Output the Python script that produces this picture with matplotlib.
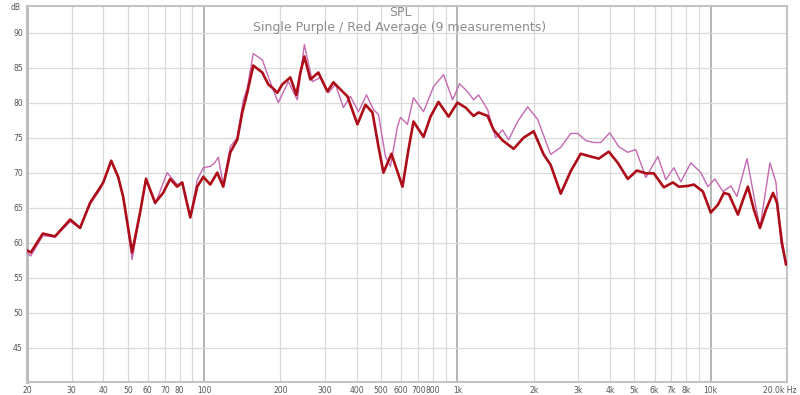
import matplotlib
matplotlib.use("Agg")
import matplotlib.pyplot as plt
from matplotlib.ticker import FixedLocator, NullFormatter

# Red: average of 9 measurements
avg_freq = [20, 20.7, 23.1, 25.8, 29.6, 32.4, 35.5, 38.9, 40, 43, 45.8, 47.9, 52, 55.9,
            59, 64.1, 68.9, 73.5, 78.3, 82, 88.2, 94, 99.3, 105.8, 112.7, 119, 126.9,
            135.2, 141.5, 148, 156.4, 169.8, 179.3, 187.7, 194.6, 203.6, 219, 231.4,
            240, 248.8, 262.8, 282.5, 306.8, 324, 351.6, 368, 403, 433.6, 462, 488,
            510.7, 549, 607, 641, 671, 735, 783, 842, 923, 1000, 1077, 1158, 1212,
            1316, 1390, 1508, 1668, 1826, 2000, 2190, 2334, 2558, 2800, 3068, 3360,
            3614, 3958, 4296, 4706, 5108, 5544, 5962, 6530, 7086, 7482, 8124, 8580,
            9312, 10000, 10670, 11272, 11800, 12808, 13400, 14020, 14810, 15640,
            16520, 17612, 18260, 19100, 19818]
avg_db = [58.9, 58.6, 61.3, 60.9, 63.3, 62.1, 65.7, 67.9, 68.6, 71.7, 69.4, 66.6, 58.6, 64.3,
          69.1, 65.7, 67.1, 69.1, 68.0, 68.6, 63.6, 68.0, 69.4, 68.3, 70.0, 68.0, 72.9,
          74.7, 78.6, 81.4, 85.3, 84.3, 82.6, 82.0, 81.4, 82.6, 83.6, 81.1,
          84.3, 86.6, 83.3, 84.3, 81.6, 82.9, 81.6, 80.9, 76.9, 79.7, 78.6, 73.7,
          70.0, 72.7, 68.0, 73.3, 77.3, 75.1, 78.0, 80.1, 78.0, 80.0, 79.3, 78.1, 78.6,
          78.1, 76.1, 74.6, 73.4, 75.0, 75.9, 72.6, 71.1, 67.0, 70.2, 72.7, 72.3,
          72.0, 73.0, 71.4, 69.1, 70.3, 69.9, 69.9, 67.9, 68.6, 68.0, 68.1, 68.3,
          67.3, 64.3, 65.4, 67.1, 66.9, 64.0, 66.1, 68.0, 64.7, 62.1,
          64.7, 67.1, 65.7, 60.0, 56.9]

# Purple: single measurement
single_freq = [20, 20.7, 23.1, 25.8, 28.3, 29.6, 32.4, 35.5, 38.9, 43, 45.8, 47.9, 52, 55.9,
               59, 64.1, 71.5, 78.3, 82, 88.2, 94, 99.3, 105.8, 109.7, 113.8, 119, 126.9,
               135.2, 142.8, 148, 156.4, 169.8, 182.6, 196.4, 215, 233.4, 248.8, 267.7,
               287.8, 309.7, 330, 354.8, 378, 406.8, 437.6, 466.4, 488, 520, 544, 580,
               596, 635, 671, 735, 805, 882, 957, 1020, 1107, 1158, 1212, 1316, 1416,
               1508, 1593, 1729, 1894, 2074, 2334, 2558, 2800, 2986, 3210, 3454, 3680,
               3994, 4336, 4706, 5060, 5544, 6184, 6650, 7152, 7620, 8350, 9140, 9748,
               10384, 11170, 12012, 12690, 13900, 14810, 15640, 17130, 18090, 18930, 19818]
single_db = [58.5, 58.1, 61.0, 60.8, 62.3, 63.0, 62.1, 65.5, 67.6, 71.6, 69.3, 66.6, 57.6, 64.3,
             69.3, 65.5, 70.0, 68.3, 68.6, 63.6, 69.0, 70.7, 70.9, 71.3, 72.2, 68.3, 73.7,
             75.0, 80.4, 82.0, 87.0, 86.1, 82.9, 80.0, 83.0, 80.4, 88.3, 83.0,
             83.6, 81.4, 82.6, 79.3, 80.9, 78.7, 81.1, 79.0, 78.3, 72.3, 70.9, 76.6,
             77.9, 76.9, 80.7, 78.7, 82.3, 84.0, 80.4, 82.7, 81.4, 80.4, 81.1, 79.0, 75.0,
             76.1, 74.7, 77.3, 79.4, 77.6, 72.6, 73.6, 75.6, 75.6, 74.6, 74.3, 74.3,
             75.7, 73.7, 72.9, 73.3, 69.3, 72.3, 69.0, 70.7, 68.7, 71.4, 70.0, 68.0,
             69.1, 67.3, 68.1, 66.6, 72.0, 66.6, 62.1, 71.4, 68.6, 60.0, 57.1]

x_ticks = [20, 30, 40, 50, 60, 70, 80, 100, 200, 300, 400, 500, 600, 700, 800,
           1000, 2000, 3000, 4000, 5000, 6000, 7000, 8000, 10000, 20000]
x_labels = ["20", "30", "40", "50", "60", "70", "80", "100", "200", "300", "400", "500",
            "600", "700", "800", "1k", "2k", "3k", "4k", "5k", "6k", "7k", "8k", "10k",
            ""]
end_label = "20.0k Hz"
y_ticks = [45, 50, 55, 60, 65, 70, 75, 80, 85, 90]

minor_grid = [30, 40, 50, 60, 70, 80, 90, 200, 300, 400, 500, 600, 700, 800, 900,
              2000, 3000, 4000, 5000, 6000, 7000, 8000, 9000]
major_grid = [100, 1000, 10000]

fig = plt.figure(figsize=(8, 3.95), dpi=100)
ax = fig.add_axes([27 / 800, 13 / 395, 760 / 800, 376 / 395])

ax.set_xscale("log")
ax.set_xlim(20, 20000)
ax.set_ylim(40.1, 93.8)

for f in minor_grid:
    ax.axvline(f, color="#dadada", lw=0.9, zorder=1)
for f in major_grid:
    ax.axvline(f, color="#b4b4b4", lw=1.4, zorder=1)
for y in y_ticks:
    ax.axhline(y, color="#dadada", lw=0.9, zorder=1)

ax.plot(single_freq, single_db, color="#c569b2", lw=1.0, zorder=3)
ax.plot(avg_freq, avg_db, color="#ad0d18", lw=1.9, zorder=4)

ax.xaxis.set_major_locator(FixedLocator(x_ticks))
ax.xaxis.set_minor_formatter(NullFormatter())
ax.xaxis.set_minor_locator(FixedLocator([]))
ax.set_xticklabels(x_labels)
ax.set_yticks(y_ticks)
ax.tick_params(axis="both", length=0, labelsize=5.5, labelcolor="#555555", pad=3)

# last frequency label, kept inside the figure
fig.text(797 / 800, 8.8 / 395, end_label, fontsize=5.5, color="#555555", ha="right", va="top")

for side in ["top", "right", "bottom"]:
    ax.spines[side].set_color("#c4c4c4")
    ax.spines[side].set_linewidth(1.5)
ax.spines["left"].set_color("#bdbdbd")
ax.spines["left"].set_linewidth(2.2)

fig.text(0.019, 0.993, "dB", fontsize=5.5, color="#555555", ha="center", va="top")
fig.text(0.5, 0.985, "SPL", fontsize=9, color="#8c8c8c", ha="center", va="top")
fig.text(0.5, 0.948, "Single Purple / Red Average (9 measurements)", fontsize=9,
         color="#8c8c8c", ha="center", va="top")

fig.savefig("out.png", dpi=100, facecolor="white")
